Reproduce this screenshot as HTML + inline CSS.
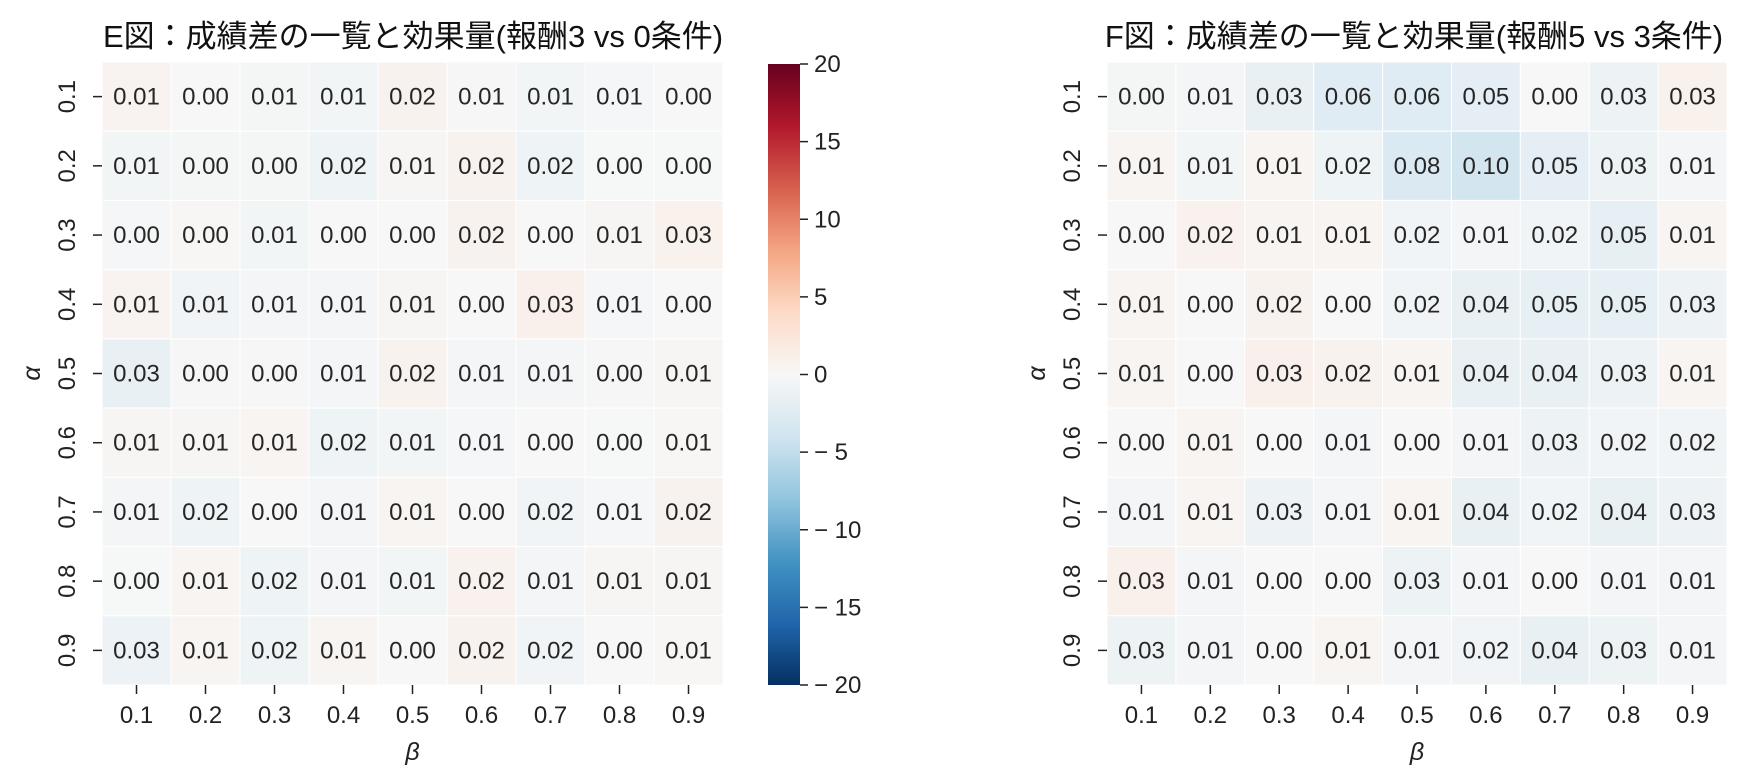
<!DOCTYPE html>
<html><head><meta charset="utf-8"><style>
html,body{margin:0;padding:0;background:#fff;}
svg{display:block;font-family:"Liberation Sans","Noto Sans CJK JP",sans-serif;}
</style></head><body>
<svg id="chart" width="1763" height="783" viewBox="0 0 1763 783" xmlns="http://www.w3.org/2000/svg">
<defs>
<linearGradient id="cbgrad" x1="0" y1="1" x2="0" y2="0">
<stop offset="0" stop-color="#053061"/><stop offset="0.1" stop-color="#2166ac"/><stop offset="0.2" stop-color="#4393c3"/><stop offset="0.3" stop-color="#92c5de"/><stop offset="0.4" stop-color="#d1e5f0"/><stop offset="0.5" stop-color="#f7f7f7"/><stop offset="0.6" stop-color="#fddbc7"/><stop offset="0.7" stop-color="#f4a582"/><stop offset="0.8" stop-color="#d6604d"/><stop offset="0.9" stop-color="#b2182b"/><stop offset="1" stop-color="#67001f"/>
</linearGradient>
</defs>
</svg>
<script>
const alphas = ["0.1","0.2","0.3","0.4","0.5","0.6","0.7","0.8","0.9"];
const betas = ["0.1","0.2","0.3","0.4","0.5","0.6","0.7","0.8","0.9"];
const leftLabels = [
 ["0.01","0.00","0.01","0.01","0.02","0.01","0.01","0.01","0.00"],
 ["0.01","0.00","0.00","0.02","0.01","0.02","0.02","0.00","0.00"],
 ["0.00","0.00","0.01","0.00","0.00","0.02","0.00","0.01","0.03"],
 ["0.01","0.01","0.01","0.01","0.01","0.00","0.03","0.01","0.00"],
 ["0.03","0.00","0.00","0.01","0.02","0.01","0.01","0.00","0.01"],
 ["0.01","0.01","0.01","0.02","0.01","0.01","0.00","0.00","0.01"],
 ["0.01","0.02","0.00","0.01","0.01","0.00","0.02","0.01","0.02"],
 ["0.00","0.01","0.02","0.01","0.01","0.02","0.01","0.01","0.01"],
 ["0.03","0.01","0.02","0.01","0.00","0.02","0.02","0.00","0.01"]];
const leftColorVals = [
 [0.6,0,-0.3,-0.5,0.7,0.1,-0.5,-0.2,0],
 [-0.5,-0.3,-0.3,-1.0,0.3,0.7,-1.0,-0.1,-0.1],
 [-0.2,0.2,-0.5,0,0,0.7,0,0.3,0.9],
 [0.6,-0.6,-0.4,-0.4,0.3,0,1.0,-0.2,0],
 [-1.6,0.1,0.1,-0.4,0.7,-0.4,-0.4,0.1,0.3],
 [0.3,0.3,0.5,-0.9,-0.5,-0.2,0,-0.1,0.2],
 [-0.4,-0.9,0,-0.4,0.5,0,-0.7,-0.2,0.7],
 [-0.1,0.5,-0.9,-0.4,-0.5,0.8,-0.4,0.3,0.3],
 [-1.2,0.5,-0.9,0.5,0,0.7,-0.7,0,0.2]];
const rightLabels = [
 ["0.00","0.01","0.03","0.06","0.06","0.05","0.00","0.03","0.03"],
 ["0.01","0.01","0.01","0.02","0.08","0.10","0.05","0.03","0.01"],
 ["0.00","0.02","0.01","0.01","0.02","0.01","0.02","0.05","0.01"],
 ["0.01","0.00","0.02","0.00","0.02","0.04","0.05","0.05","0.03"],
 ["0.01","0.00","0.03","0.02","0.01","0.04","0.04","0.03","0.01"],
 ["0.00","0.01","0.00","0.01","0.00","0.01","0.03","0.02","0.02"],
 ["0.01","0.01","0.03","0.01","0.01","0.04","0.02","0.04","0.03"],
 ["0.03","0.01","0.00","0.00","0.03","0.01","0.00","0.01","0.01"],
 ["0.03","0.01","0.00","0.01","0.01","0.02","0.04","0.03","0.01"]];
const rightColorVals = [
 [-0.3,-0.4,-1.5,-2.4,-2.4,-2.0,0,-1.1,0.9],
 [0.5,-0.5,0.5,-0.9,-3.0,-3.8,-2.0,-1.1,-0.4],
 [0,0.8,0.4,0.4,-0.7,-0.4,-0.7,-1.8,0.4],
 [0.5,0,0.7,0,-0.7,-1.5,-1.8,-1.8,-1.1],
 [0.4,0,1.0,0.7,0.4,-1.5,-1.5,-1.1,0.4],
 [0,0.4,0,-0.4,0,-0.4,-1.1,-0.7,-0.7],
 [-0.4,0.4,-1.1,-0.4,0.4,-1.5,-0.7,-1.5,-1.1],
 [1.0,-0.4,0,0,-1.1,-0.4,0,-0.4,-0.4],
 [-1.1,-0.4,0,0.5,-0.4,-0.7,-1.5,-1.1,-0.4]];
const cbTicks = [-20,-15,-10,-5,0,5,10,15,20];
const vmin = -20, vmax = 20;

const NS = "http://www.w3.org/2000/svg";
const svg = document.getElementById('chart');
function mk(tag, attrs, parent){const e=document.createElementNS(NS,tag);for(const k in attrs)e.setAttribute(k,attrs[k]);(parent||svg).appendChild(e);return e;}
const stops=["#053061","#2166ac","#4393c3","#92c5de","#d1e5f0","#f7f7f7","#fddbc7","#f4a582","#d6604d","#b2182b","#67001f"];
function hex(c){return [parseInt(c.substr(1,2),16),parseInt(c.substr(3,2),16),parseInt(c.substr(5,2),16)];}
function cmap(v){let t=(v-vmin)/(vmax-vmin);t=Math.max(0,Math.min(1,t));const p=t*10;const i=Math.min(9,Math.floor(p));const f=p-i;const a=hex(stops[i]),b=hex(stops[i+1]);return "rgb("+a.map((x,j)=>Math.round(x+(b[j]-x)*f)).join(",")+")";}

function heatmap(x0,y0,w,h,labels,vals,title,titleX,prefix){
  const cw=w/9, ch=h/9;
  const xs=j=>x0+j*cw, ys=i=>y0+i*ch;
  const g=mk('g',{});
  
  
  const t=mk('text',{x:titleX,y:47,'font-size':31,'text-anchor':'middle',fill:'#111'},g);t.textContent=title;
  
  
  for(let i=0;i<9;i++)for(let j=0;j<9;j++){
    const r=mk('rect',{x:xs(j),y:ys(i),width:cw,height:ch,fill:cmap(vals[i][j]),stroke:'#fff','stroke-width':1},g);
    
    
    const tx=mk('text',{x:xs(j)+cw/2,y:ys(i)+ch/2+8,'font-size':24,'text-anchor':'middle',fill:'#262626'},g);
    tx.textContent=labels[i][j];
    
    
  }
  for(let j=0;j<9;j++){
    const cx=xs(j)+cw/2;
    mk('line',{x1:cx,x2:cx,y1:y0+h,y2:y0+h+9,stroke:'#222','stroke-width':1.5},g);
    const l=mk('text',{x:cx,y:y0+h+38,'font-size':24,'text-anchor':'middle',fill:'#222'},g);l.textContent=betas[j];
    
    
  }
  for(let i=0;i<9;i++){
    const cy=ys(i)+ch/2;
    mk('line',{x1:x0-9,x2:x0,y1:cy,y2:cy,stroke:'#222','stroke-width':1.5},g);
    const l=mk('text',{x:0,y:0,'font-size':24,'text-anchor':'middle',fill:'#222',transform:`translate(${x0-27},${cy}) rotate(-90)`},g);l.textContent=alphas[i];
    
    
  }
  const xl=mk('text',{x:x0+w/2,y:y0+h+75,'font-size':25,'text-anchor':'middle','font-style':'italic',fill:'#222'},g);xl.textContent='β';
  
  
  const yl=mk('text',{x:0,y:0,'font-size':25,'text-anchor':'middle','font-style':'italic',fill:'#222',transform:`translate(${x0-62},${y0+h/2}) rotate(-90)`},g);yl.textContent='α';
  
  
}
heatmap(102,62,621,623,leftLabels,leftColorVals,'E図：成績差の一覧と効果量(報酬3 vs 0条件)',413,'e');
heatmap(1107,62,620,623,rightLabels,rightColorVals,'F図：成績差の一覧と効果量(報酬5 vs 3条件)',1414,'f');

const cbx=768, cby=64, cbw=32, cbh=621;
const cb=mk('rect',{x:cbx,y:cby,width:cbw,height:cbh,fill:'url(#cbgrad)'});


const cyScale=v=>cby+cbh-(v-vmin)/(vmax-vmin)*cbh;
cbTicks.forEach(v=>{
  const y=cyScale(v);
  mk('line',{x1:cbx+cbw,x2:cbx+cbw+8,y1:y,y2:y,stroke:'#222','stroke-width':1.5});
  const l=mk('text',{x:cbx+cbw+14,y:y+8,'font-size':24,fill:'#222'});
  l.textContent=v<0?'− '+Math.abs(v):String(v);
  
  
});
</script>
</body></html>
